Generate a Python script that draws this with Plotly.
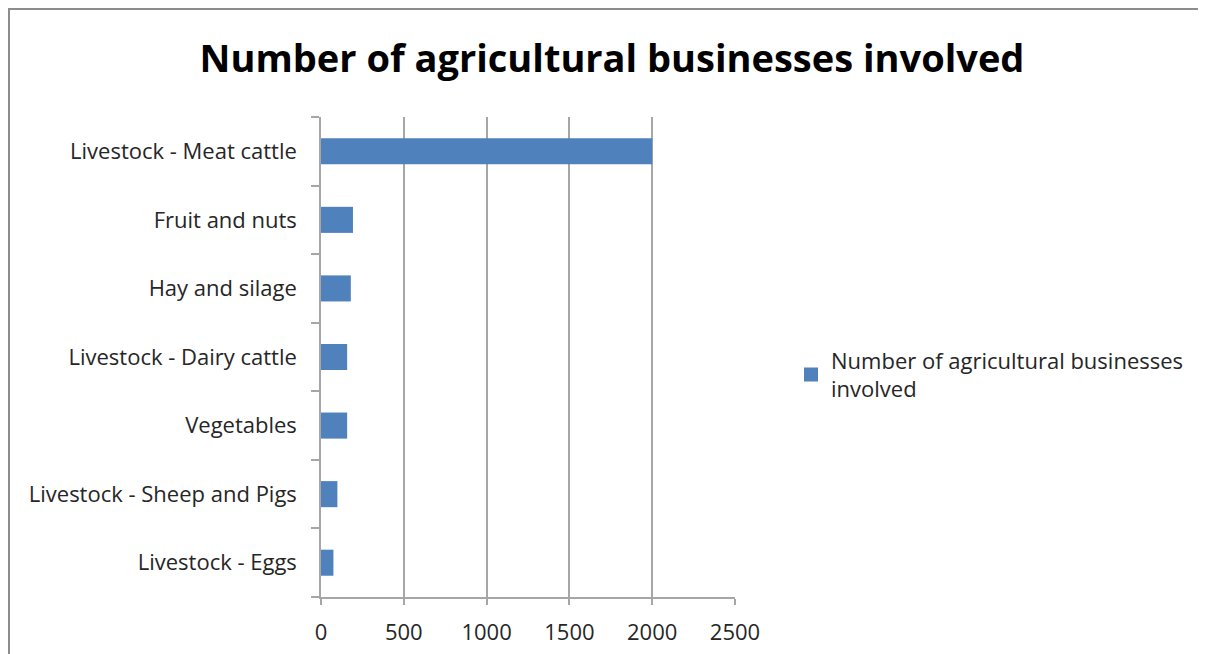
import plotly.graph_objects as go

categories = ["Livestock - Meat cattle", "Fruit and nuts", "Hay and silage",
              "Livestock - Dairy cattle", "Vegetables", "Livestock - Sheep and Pigs",
              "Livestock - Eggs"]
values = [2000, 193, 180, 158, 158, 99, 75]
series_name = "Number of agricultural businesses involved"
x_ticks = [0, 500, 1000, 1500, 2000, 2500]

W, H = 1206, 654
OFF = 8  # page body margin
L, R, T, B = 321 - OFF, 735 - OFF, 117 - OFF, 597 - OFF

def px_x(p):
    return (p - OFF - L) / (R - L)

def px_y(p):
    return (B - (p - OFF)) / (B - T)

BLUE = "#4F81BD"
FONT = "Open Sans"
FS = 22

fig = go.Figure()
fig.add_trace(go.Bar(
    y=categories, x=values, orientation="h",
    name=series_name,
    marker=dict(color=BLUE, line=dict(color=BLUE, width=0)),
    showlegend=False,
))
fig.add_trace(go.Scatter(
    x=[None], y=[None], mode="markers",
    name="Number of agricultural businesses<br>involved",
    marker=dict(symbol="square", size=14, color=BLUE),
    showlegend=True, hoverinfo="skip",
))

fig.update_layout(
    width=W, height=H,
    margin=dict(l=L, r=W - R, t=T, b=H - B, autoexpand=False),
    paper_bgcolor="white", plot_bgcolor="white",
    font=dict(family=FONT, size=FS, color="#262626"),
    title=dict(text="<b>" + series_name + "</b>", x=(612 - OFF) / W, xanchor="center",
               y=1 - (59 - OFF) / H, yanchor="middle",
               font=dict(family=FONT, size=38, color="#000000")),
    bargap=0.62,
    showlegend=True,
    legend=dict(x=px_x(791), y=px_y(375), xanchor="left", yanchor="middle",
                font=dict(family=FONT, size=FS, color="#262626"), bgcolor="rgba(0,0,0,0)",
                itemwidth=30),
    xaxis=dict(range=[0, 2500], tickvals=x_ticks, ticktext=[str(v) for v in x_ticks],
               showgrid=True, gridcolor="#A6A6A6", gridwidth=1.5,
               showline=True, linecolor="#A6A6A6", linewidth=1.5,
               ticks="outside", ticklen=6, tickcolor="#A6A6A6", tickwidth=1.5,
               zeroline=False, ticklabelstandoff=9, tickfont=dict(size=FS)),
    yaxis=dict(categoryorder="array", categoryarray=categories[::-1],
               autorange=False, range=[-0.5, len(categories) - 0.5],
               showline=True, linecolor="#A6A6A6", linewidth=1.5,
               ticks="outside", ticklen=8, tickcolor="#A6A6A6", tickwidth=1.5,
               tickson="boundaries", showgrid=False, ticklabelstandoff=18,
               tickfont=dict(size=FS)),
)

fig.add_shape(type="rect", xref="paper", yref="paper",
              x0=px_x(9), x1=px_x(1225), y0=px_y(720), y1=px_y(9),
              line=dict(color="#8C8C8C", width=2), fillcolor="rgba(0,0,0,0)", layer="below")

fig.write_html("out.html")
